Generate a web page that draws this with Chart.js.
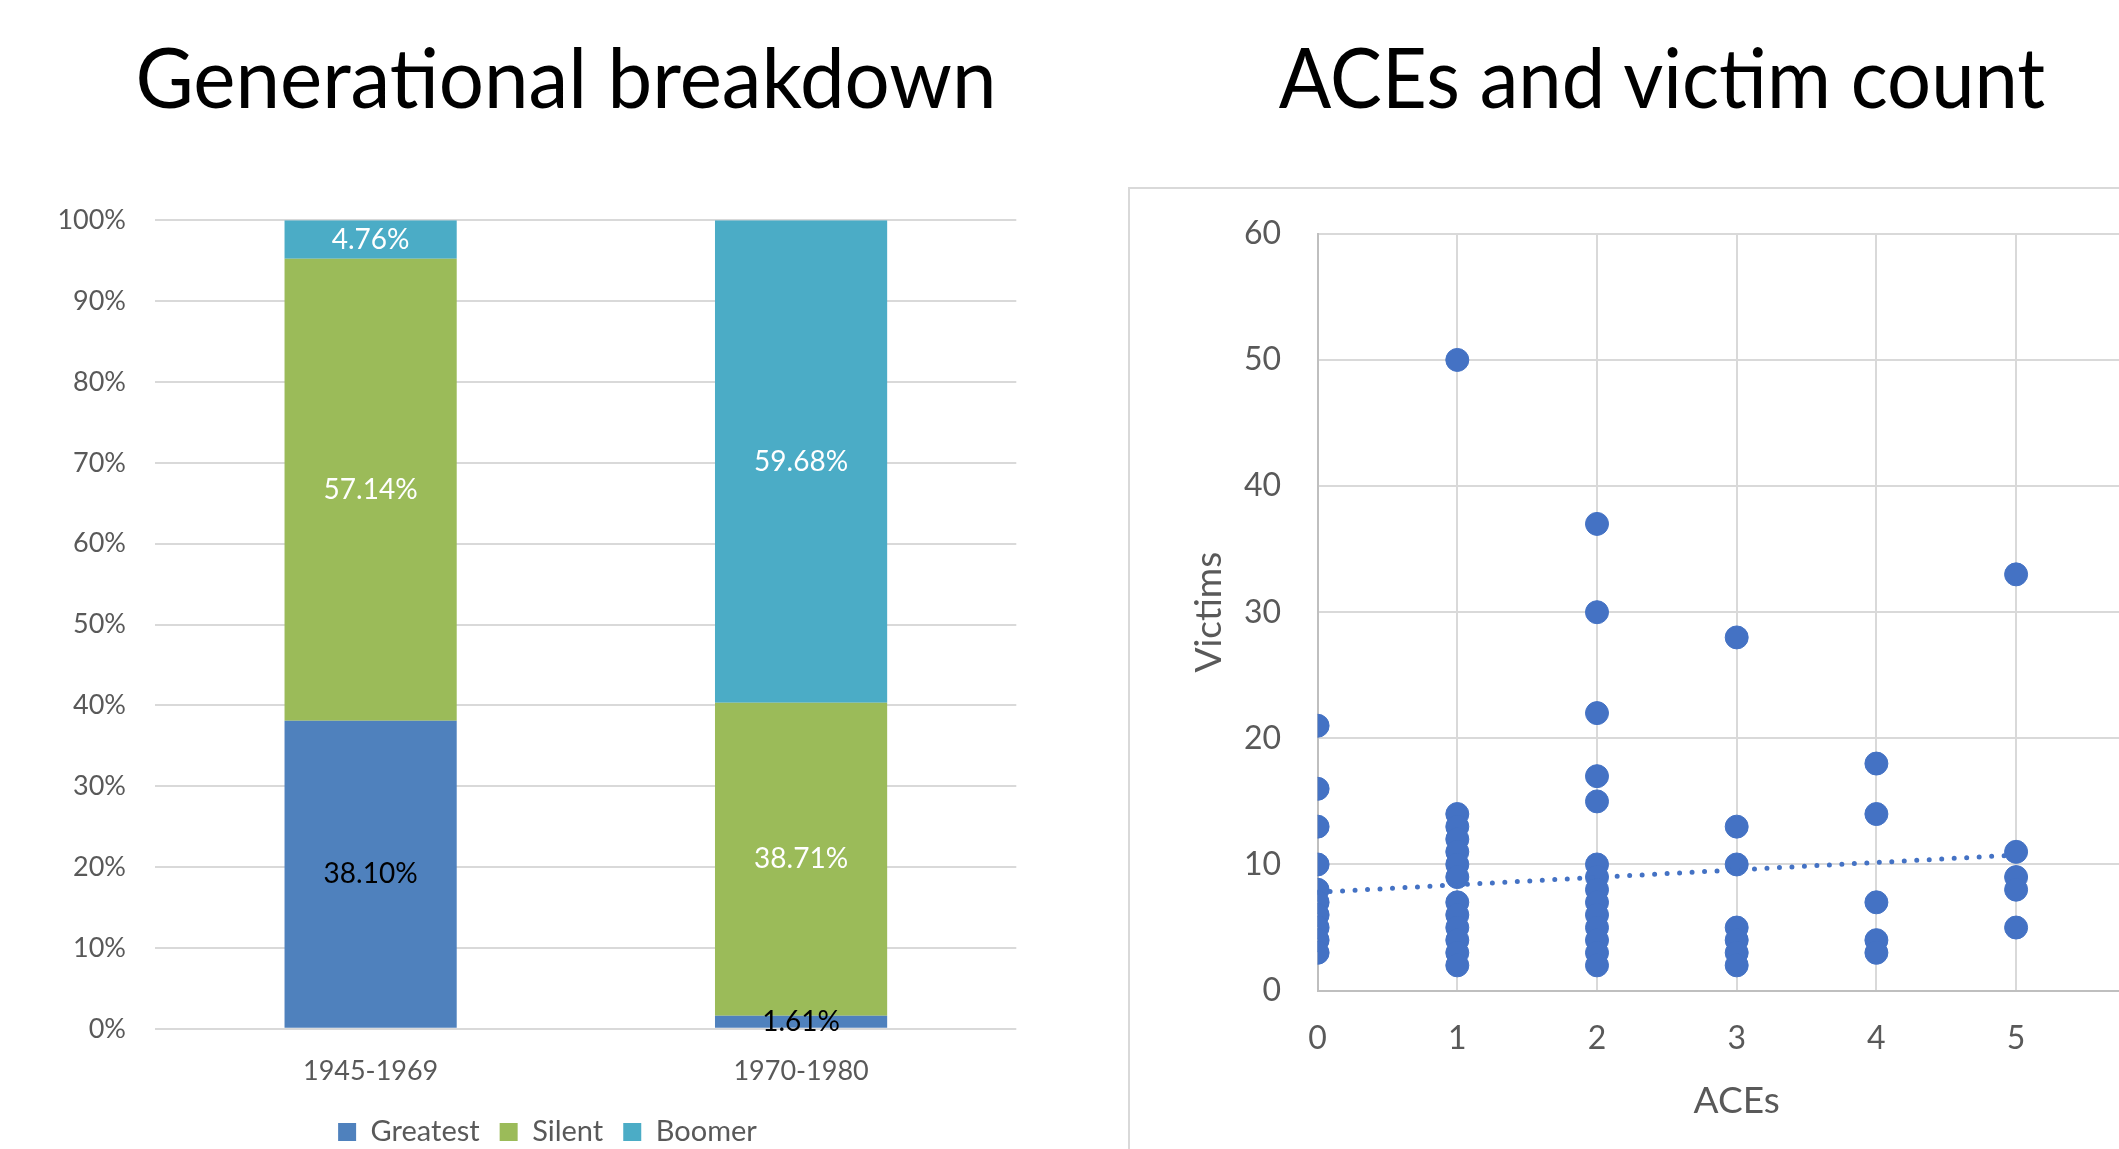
<!DOCTYPE html>
<html>
<head>
<meta charset="utf-8">
<script src="https://cdn.jsdelivr.net/npm/chart.js@4/dist/chart.umd.min.js"></script>
<style>
html,body{margin:0;padding:0;background:#fff;overflow:hidden;width:2119px;height:1149px}
.title{position:absolute;top:26px;font-family:Lato,sans-serif;font-size:84px;line-height:100px;color:#000;text-align:center;white-space:nowrap}
#leftTitle{left:66px;width:1000px;transform:scaleX(0.95)}
#rightTitle{left:1162px;width:1000px;transform:scaleX(0.925)}
#genCanvas{position:absolute;left:0;top:140px}
#aceBox{position:absolute;left:1128px;top:187px;width:1100px;height:970px;border-left:2px solid #D9D9D9;border-top:2px solid #D9D9D9}
#aceCanvas{position:absolute;left:0;top:0}
</style>
</head>
<body>
<div class="title" id="leftTitle">Generational breakdown</div>
<div class="title" id="rightTitle">ACEs and victim count</div>
<canvas id="genCanvas" width="1095" height="1030"></canvas>
<div id="aceBox"><canvas id="aceCanvas" width="1100" height="960"></canvas></div>
<script>
// generational breakdown (percent of each birth-year group)
const genCategories = ['1945-1969', '1970-1980'];
const greatestPct = [38.10, 1.61];
const silentPct = [57.14, 38.71];
const boomerPct = [4.76, 59.68];
const pctTicks = [0, 10, 20, 30, 40, 50, 60, 70, 80, 90, 100];

// ACEs vs victims, one entry per offender
const acesX = [0,0,0,0,0,0,0,0,0,0,
  1,1,1,1,1,1,1,1,1,1,1,1,1,
  2,2,2,2,2,2,2,2,2,2,2,2,2,2,
  3,3,3,3,3,3,3,
  4,4,4,4,4,
  5,5,5,5,5];
const victimsY = [21,16,13,10,8,7,6,5,4,3,
  50,14,13,12,11,10,9,7,6,5,4,3,2,
  37,30,22,17,15,10,9,8,7,6,5,4,3,2,
  28,13,10,5,4,3,2,
  18,14,7,4,3,
  33,11,9,8,5];
// linear trendline
const trendX = [0, 5];
const trendY = [7.8, 10.75];

const GREY = '#595959';
const GRID = '#D9D9D9';

const segmentLabels = {
  id: 'segmentLabels',
  afterDatasetsDraw(chart) {
    const ctx = chart.ctx;
    ctx.save();
    ctx.font = '28px Lato';
    ctx.textAlign = 'center';
    ctx.textBaseline = 'middle';
    chart.data.datasets.forEach((ds, i) => {
      chart.getDatasetMeta(i).data.forEach((bar, j) => {
        ctx.fillStyle = ds.labelColor;
        ctx.fillText(ds.data[j].toFixed(2) + '%', bar.x, (bar.y + bar.base) / 2);
      });
    });
    ctx.restore();
  }
};

let chartGen = new Chart(document.getElementById('genCanvas'), {
  type: 'bar',
  data: {
    labels: genCategories,
    datasets: [
      {label: 'Greatest', data: greatestPct, backgroundColor: '#4F81BD', labelColor: '#000'},
      {label: 'Silent', data: silentPct, backgroundColor: '#9BBB59', labelColor: '#fff'},
      {label: 'Boomer', data: boomerPct, backgroundColor: '#4BACC6', labelColor: '#fff'}
    ]
  },
  options: {
    responsive: false,
    animation: false,
    barPercentage: 0.4,
    categoryPercentage: 1.0,
    layout: {padding: {left: 0, right: 0, top: 80.3, bottom: 13.5}},
    scales: {
      x: {
        stacked: true,
        grid: {display: false},
        border: {display: false},
        ticks: {color: GREY, font: {family: 'Lato', size: 27}, padding: 18},
        afterFit: s => { s.height = 68.7; }
      },
      y: {
        stacked: true,
        min: 0, max: 100,
        afterBuildTicks: s => { s.ticks = pctTicks.map(v => ({value: v})); },
        grid: {color: GRID, lineWidth: 2, drawTicks: false},
        border: {display: false},
        ticks: {color: GREY, font: {family: 'Lato', size: 27}, padding: 29.4, callback: v => v + '%'},
        afterFit: s => { s.width = 155.4; }
      },
      yR: {
        position: 'right',
        grid: {display: false},
        border: {display: false},
        ticks: {display: false},
        afterFit: s => { s.width = 78.7; }
      }
    },
    plugins: {
      legend: {
        position: 'bottom',
        labels: {color: GREY, font: {family: 'Lato', size: 29}, boxWidth: 18, boxHeight: 18, padding: 20}
      },
      tooltip: {enabled: false}
    }
  },
  plugins: [segmentLabels]
});

let chartAces = new Chart(document.getElementById('aceCanvas'), {
  type: 'scatter',
  data: {
    datasets: [
      {
        type: 'line',
        data: trendX.map((x, i) => ({x: x, y: trendY[i]})),
        borderColor: '#4472C4',
        borderWidth: 5,
        borderDash: [0, 12.5],
        borderCapStyle: 'round',
        pointRadius: 0,
        fill: false
      },
      {
        data: acesX.map((x, i) => ({x: x, y: victimsY[i]})),
        backgroundColor: '#4472C4',
        borderColor: '#4472C4',
        borderWidth: 1,
        pointRadius: 11.5
      }
    ]
  },
  options: {
    responsive: false,
    animation: false,
    layout: {padding: {left: 0, right: 74.2, top: 44.8, bottom: 25.4}},
    scales: {
      x: {
        type: 'linear',
        min: 0, max: 6,
        ticks: {stepSize: 1, color: GREY, font: {family: 'Lato', size: 32}, padding: 29},
        grid: {color: GRID, lineWidth: 2, drawTicks: false},
        border: {color: '#BFBFBF', width: 2},
        title: {display: true, text: 'ACEs', color: GREY, font: {family: 'Lato', size: 37}, padding: {top: 0, bottom: 0}},
        afterFit: s => { s.height = 133; }
      },
      y: {
        min: 0, max: 60,
        ticks: {stepSize: 10, color: GREY, font: {family: 'Lato', size: 32}, padding: 0},
        grid: {color: GRID, lineWidth: 2, drawTicks: true, tickLength: 36.6, tickColor: 'rgba(0,0,0,0)'},
        border: {color: '#BFBFBF', width: 2},
        title: {display: true, text: 'Victims', color: GREY, font: {family: 'Lato', size: 37}, padding: {top: 57.3, bottom: 0}},
        afterFit: s => { s.width = 187.6; }
      }
    },
    plugins: {
      legend: {display: false},
      tooltip: {enabled: false}
    }
  }
});
</script>
</body>
</html>
